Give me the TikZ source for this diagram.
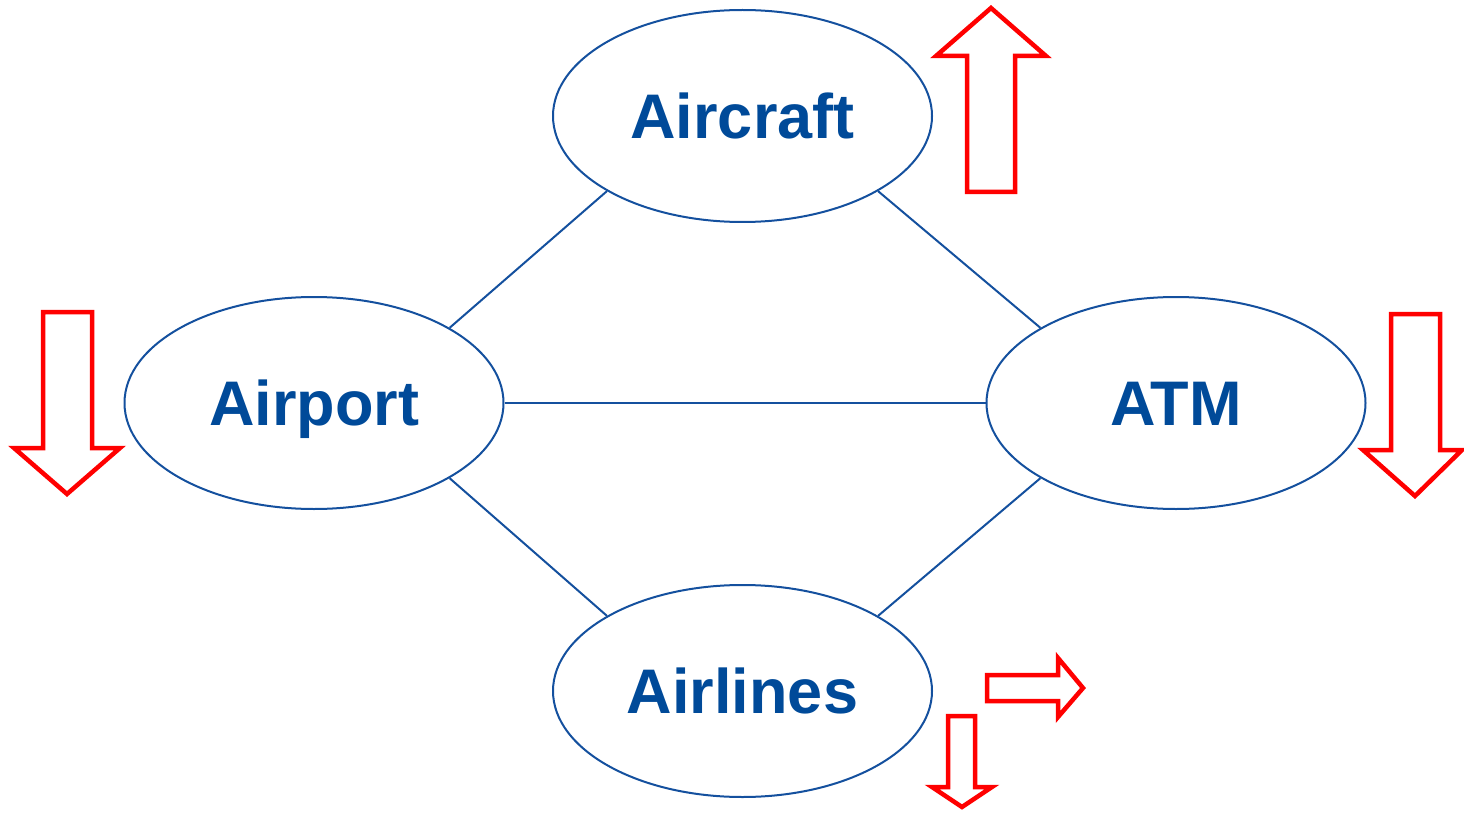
\documentclass[tikz,border=0pt]{standalone}
\usepackage{fontspec}
\setmainfont{Liberation Sans}
\usetikzlibrary{shapes.geometric}
\definecolor{dblue}{RGB}{0,74,153}
\definecolor{lblue}{RGB}{20,80,158}
\definecolor{bred}{RGB}{255,0,0}
\tikzset{
  party/.style={ellipse, draw=lblue, line width=2pt, minimum width=379pt,
    minimum height=212pt, inner sep=0pt, text=dblue,
    font=\fontsize{63}{63}\selectfont\bfseries, text height=45pt, text depth=0pt},
  link/.style={draw=lblue, line width=2pt},
  trend/.style={draw=bred, line width=4.5pt, line join=miter, fill=white}
}
\begin{document}
\begin{tikzpicture}[x=1pt,y=-1pt]
\useasboundingbox (0,0) rectangle (1464,813);
% the four stakeholders
\node[party] (aircraft) at (742.5,116) {Aircraft};
\node[party] (airport)  at (314,403)   {Airport};
\node[party] (atm)      at (1176,403)  {ATM};
\node[party] (airlines) at (742.5,691) {Airlines};
% relations between them
\draw[link] (airport.29)  -- (aircraft.209);
\draw[link] (aircraft.331) -- (atm.151);
\draw[link] (airport.east) -- (atm.west);
\draw[link] (airport.331) -- (airlines.151);
\draw[link] (atm.209) -- (airlines.29);
% trend arrows
\draw[trend] (967,192) -- (967,56) -- (936,56) -- (991,8) -- (1046,56)
  -- (1015,56) -- (1015,192) -- cycle;
\draw[trend] (43,312) -- (92,312) -- (92,448) -- (120,448) -- (67,494)
  -- (14,448) -- (43,448) -- cycle;
\draw[trend] (1391,314) -- (1440,314) -- (1440,450) -- (1462,450) -- (1415,496)
  -- (1363,450) -- (1391,450) -- cycle;
\draw[trend] (987,675) -- (1058,675) -- (1058,658) -- (1083,688) -- (1058,717)
  -- (1058,701) -- (987,701) -- cycle;
\draw[trend] (948,716) -- (975,716) -- (975,787) -- (992,787) -- (962,807)
  -- (932,787) -- (948,787) -- cycle;
\end{tikzpicture}
\end{document}
